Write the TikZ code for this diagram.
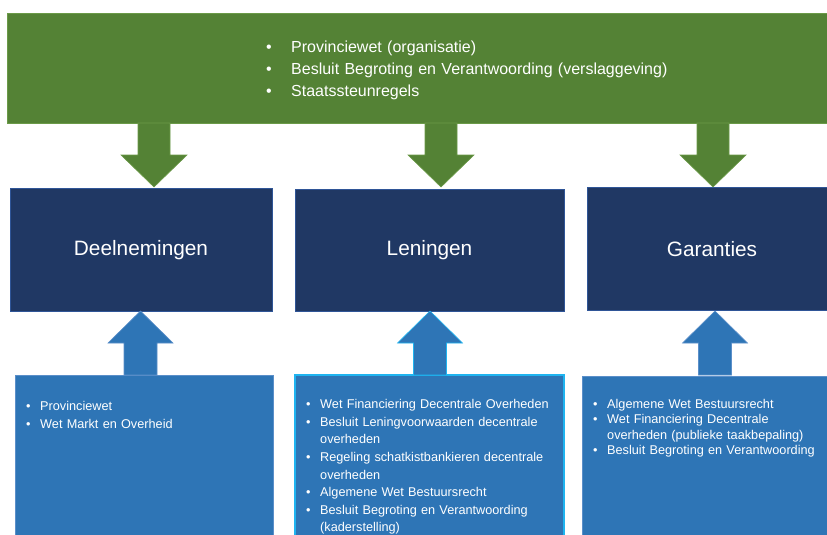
\documentclass[tikz,border=0pt]{standalone}
\usepackage{fontspec}
\setmainfont{Liberation Sans}
\begin{document}
\definecolor{frame}{HTML}{548235}
\definecolor{frameedge}{HTML}{6B9A48}
\definecolor{topic}{HTML}{203864}
\definecolor{topicedge}{HTML}{2F5597}
\definecolor{law}{HTML}{2E75B6}
\definecolor{lawedge}{HTML}{5B8FC9}
\definecolor{highlight}{HTML}{1FB4F0}
\newcommand\bul[2][14pt]{\par\noindent\hangindent=#1\hangafter=1\makebox[#1][l]{•}#2}
\begin{tikzpicture}[x=1pt,y=-1pt,
  framebox/.style={fill=frame,draw=frameedge,line width=0.6pt},
  topicbox/.style={fill=topic,draw=topicedge,line width=0.5pt},
  topictext/.style={text=white,font=\fontsize{20.8}{24}\selectfont},
  lawbox/.style={fill=law,draw=lawedge,line width=0.6pt},
  greenarrow/.style={fill=frame,draw=frameedge,line width=0.6pt},
  bluearrow/.style={fill=law,draw=lawedge,line width=0.6pt},
  listtext/.style={anchor=base west,inner sep=0pt,text=white}]
\useasboundingbox (0,0) rectangle (827,535);

% regulatory frame at the top
\path[framebox] (7,13) rectangle (830,123);
\node[listtext,text width=420pt,font=\fontsize{16}{22}\selectfont] (rules) at (266,30.5)
  {\raggedright\bul[25pt]{Provinciewet (organisatie)}\bul[25pt]{Besluit Begroting en Verantwoording (verslaggeving)}\bul[25pt]{Staatssteunregels}\par};

% the three instruments
\path[topicbox] (10,188) rectangle (272,311);
\path[topicbox] (295,189) rectangle (564,311);
\path[topicbox] (587,187) rectangle (830,310);
\node[topictext] (deel) at (141,250) {Deelnemingen};
\node[topictext] (len) at (429.5,250) {Leningen};
\node[topictext] (gar) at (712,249) {Garanties};

% block arrows from the frame down to each instrument
\foreach \cx in {154,441,713}{
  \path[greenarrow] (\cx-16,123) -- (\cx+16,123) -- (\cx+16,155) -- (\cx+33,155)
    -- (\cx,187) -- (\cx-33,155) -- (\cx-16,155) -- cycle;
}

% legislation boxes
\path[lawbox] (15,375) rectangle (273,540);
\path[lawbox,draw=highlight,line width=1.2pt] (295,375) rectangle (564,540);
\path[lawbox] (582,376) rectangle (830,540);

% block arrows from the legislation up to each instrument
\foreach \cx/\edge in {140.5/lawedge,430/highlight,715/lawedge}{
  \path[bluearrow,draw=\edge] (\cx-16.5,375) -- (\cx+16.5,375) -- (\cx+16.5,343) -- (\cx+32.5,343)
    -- (\cx,311) -- (\cx-32.5,343) -- (\cx-16.5,343) -- cycle;
}

\node[listtext,text width=240pt,font=\fontsize{12.7}{18}\selectfont] (lawdeel) at (26,392.5)
  {\raggedright\bul{Provinciewet}\bul{Wet Markt en Overheid}\par};
\node[listtext,text width=255pt,font=\fontsize{12.7}{17.6}\selectfont] (lawlen) at (306,391)
  {\raggedright\bul{Wet Financiering Decentrale Overheden}\bul{Besluit Leningvoorwaarden decentrale\newline overheden}\bul{Regeling schatkistbankieren decentrale\newline overheden}\bul{Algemene Wet Bestuursrecht}\bul{Besluit Begroting en Verantwoording\newline (kaderstelling)}\par};
\node[listtext,text width=230pt,font=\fontsize{12.7}{15.3}\selectfont] (lawgar) at (593,393.2)
  {\raggedright\bul{Algemene Wet Bestuursrecht}\bul{Wet Financiering Decentrale\newline overheden (publieke taakbepaling)}\bul{Besluit Begroting en Verantwoording}\par};
\end{tikzpicture}
\end{document}
